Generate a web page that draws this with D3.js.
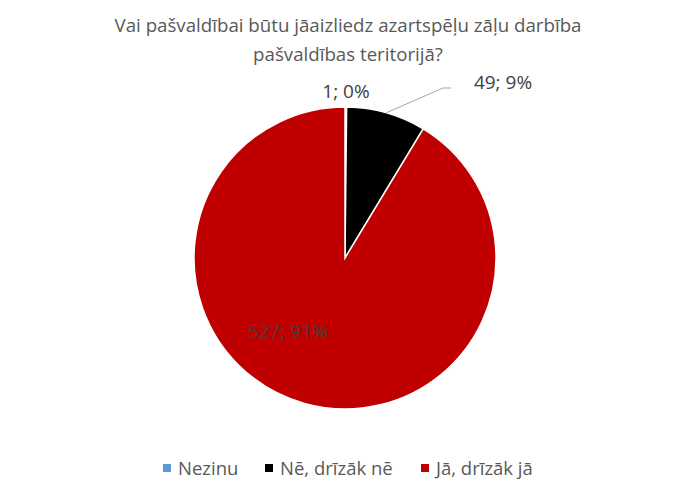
<!DOCTYPE html>
<html><head><meta charset="utf-8">
<script src="https://cdn.jsdelivr.net/npm/d3@7"></script>
<style>body{margin:0;background:#fff}svg{display:block}text{font-family:"Open Sans",sans-serif}</style>
</head><body><svg id="c" width="700" height="487"></svg>
<script>
const categories = ["Nezinu", "Nē, drīzāk nē", "Jā, drīzāk jā"];
const values = [1, 49, 527];
const percents = ["0%", "9%", "91%"];
const colors = ["#5B9BD5", "#000000", "#C00000"];
const titleLines = ["Vai pašvaldībai būtu jāaizliedz azartspēļu zāļu darbība", "pašvaldības teritorijā?"];

const svg = d3.select("#c");
const cx = 345, cy = 258, R = 151;

svg.append("g").selectAll("text").data(titleLines).join("text")
  .attr("x", 348).attr("y", (d,i)=>32 + i*29)
  .attr("text-anchor","middle").attr("font-size",18.7).attr("fill","#595959")
  .text(d=>d);

const pie = d3.pie().sort(null).value(d=>d)(values);
const arc = d3.arc().innerRadius(0).outerRadius(R);
const g = svg.append("g").attr("transform",`translate(${cx},${cy})`);
g.selectAll("path").data(pie).join("path")
  .attr("d",arc).attr("fill",(d,i)=>colors[i])
  .attr("stroke","#fff").attr("stroke-width",1.5);

const labelPos = [
  {x: 346 - cx, y: 97.5 - cy},
  {x: 503 - cx, y: 88.5 - cy},
  {x: 288 - cx, y: 338 - cy}
];
g.selectAll("text.lbl").data(pie).join("text").attr("class","lbl")
  .attr("x",(d,i)=>labelPos[i].x).attr("y",(d,i)=>labelPos[i].y)
  .attr("text-anchor","middle").attr("font-size",19).attr("fill","#404040")
  .text((d,i)=>values[i] + "; " + percents[i]);

const a = (pie[1].startAngle + pie[1].endAngle)/2;
const p0 = [Math.sin(a)*R, -Math.cos(a)*R];
g.append("polyline")
  .attr("points", [[p0[0],p0[1]],[443-cx,88-cy],[451-cx,88-cy]].map(p=>p.join(",")).join(" "))
  .attr("fill","none").attr("stroke","#A6A6A6").attr("stroke-width",1);

const legX = [163, 265, 421];
const leg = svg.append("g").selectAll("g").data(categories).join("g")
  .attr("transform",(d,i)=>`translate(${legX[i]},468)`);
leg.append("rect").attr("x",0).attr("y",-4).attr("width",8).attr("height",8).attr("fill",(d,i)=>colors[i]);
leg.append("text").attr("x",15).attr("y",7).attr("font-size",18.5).attr("fill","#595959").text(d=>d);
</script></body></html>
